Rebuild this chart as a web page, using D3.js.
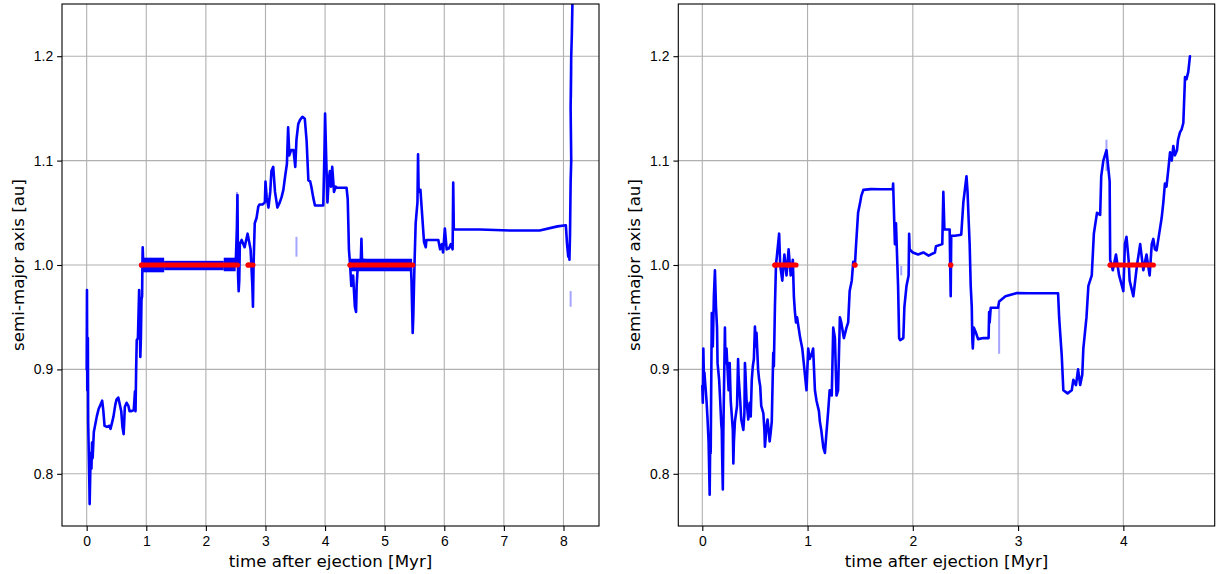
<!DOCTYPE html>
<html>
<head>
<meta charset="utf-8">
<script src="https://cdn.jsdelivr.net/npm/d3@7"></script>
<style>
  body { margin: 0; background: #fff; }
  svg { display: block; font-family: "DejaVu Sans", sans-serif; }
  .tick text { font-size: 13.9px; fill: #000; }
  .tick line { stroke: #000; stroke-width: 1.1; }
  .domain { display: none; }
</style>
</head>
<body>
<div id="chart"></div>
<script>
var width = 1217;
var height = 574;

// ---- data ----
var yTicks = [0.8, 0.9, 1.0, 1.1, 1.2];
var xTicksLeft = [0, 1, 2, 3, 4, 5, 6, 7, 8];
var xTicksRight = [0, 1, 2, 3, 4];

// left run: [time Myr, semi-major axis au]
var leftTrack = [
  [0.00,0.90],[0.005,0.976],[0.01,0.88],[0.02,0.93],[0.025,0.85],[0.035,0.82],[0.045,0.79],[0.05,0.771],
  [0.06,0.80],[0.07,0.82],[0.08,0.805],[0.09,0.83],[0.10,0.815],[0.12,0.84],[0.14,0.846],[0.17,0.855],
  [0.20,0.862],[0.23,0.866],[0.26,0.87],[0.28,0.86],[0.30,0.846],[0.34,0.845],[0.38,0.846],[0.40,0.843],
  [0.43,0.85],[0.45,0.855],[0.48,0.866],[0.50,0.871],[0.53,0.873],[0.55,0.868],[0.58,0.86],[0.60,0.845],
  [0.62,0.838],[0.63,0.85],[0.64,0.864],[0.67,0.868],[0.70,0.865],[0.72,0.86],[0.75,0.86],[0.79,0.861],
  [0.81,0.879],[0.82,0.86],[0.83,0.90],[0.84,0.928],[0.86,0.93],[0.87,0.953],[0.88,0.976],[0.89,0.95],
  [0.90,0.912],[0.91,0.93],[0.92,0.967],[0.93,0.97],[0.935,1.0],[0.94,1.017],[0.95,1.0],
  [2.50,1.0],[2.52,1.035],[2.53,1.067],[2.535,1.03],[2.54,0.99],[2.55,0.975],[2.56,0.985],[2.57,1.02],
  [2.60,1.024],[2.65,1.017],[2.70,1.03],[2.75,1.015],[2.78,0.98],[2.79,0.96],[2.80,1.0],[2.82,1.04],
  [2.85,1.045],[2.88,1.056],[2.90,1.058],[2.95,1.058],[2.99,1.06],[3.00,1.08],[3.02,1.065],[3.05,1.055],
  [3.08,1.07],[3.10,1.09],[3.13,1.094],[3.16,1.07],[3.20,1.055],[3.24,1.06],[3.27,1.065],[3.30,1.072],
  [3.33,1.085],[3.36,1.097],[3.38,1.132],[3.40,1.105],[3.43,1.11],[3.47,1.11],[3.50,1.094],[3.52,1.12],
  [3.55,1.135],[3.58,1.139],[3.62,1.142],[3.66,1.14],[3.69,1.119],[3.72,1.081],[3.75,1.08],[3.77,1.075],
  [3.80,1.065],[3.83,1.057],[3.87,1.057],[3.92,1.057],[3.97,1.057],[3.99,1.11],[4.00,1.145],[4.02,1.10],
  [4.04,1.06],[4.06,1.08],[4.08,1.09],[4.10,1.075],[4.12,1.094],[4.15,1.07],[4.18,1.075],[4.20,1.074],
  [4.25,1.074],[4.30,1.074],[4.36,1.074],[4.38,1.063],[4.39,1.04],[4.40,1.015],[4.42,1.0],[4.44,0.98],
  [4.47,0.99],[4.50,0.96],[4.52,0.955],[4.53,0.98],[4.55,1.0],[4.60,1.006],[4.61,1.025],[4.62,1.005],
  [5.44,1.0],[5.45,0.985],[5.46,0.96],[5.47,0.935],[5.48,0.95],[5.50,1.0],[5.52,1.04],[5.55,1.06],
  [5.56,1.106],[5.57,1.07],[5.60,1.072],[5.63,1.047],[5.66,1.022],[5.69,1.017],[5.70,1.024],[5.80,1.024],
  [5.90,1.024],[5.93,1.015],[5.96,1.02],[5.98,1.012],[6.01,1.035],[6.04,1.015],[6.08,1.016],[6.11,1.02],
  [6.14,1.015],[6.15,1.079],[6.16,1.034],[6.60,1.034],[7.10,1.033],[7.60,1.033],[7.90,1.037],[8.04,1.038],
  [8.06,1.02],[8.08,1.008],[8.09,1.015],[8.10,1.005],[8.11,1.03],[8.12,1.08],[8.13,1.10],[8.12,1.15],
  [8.13,1.20],[8.14,1.22],[8.15,1.25]
];
// dense bands: [t start, t end, a low, a high]
var leftBands = [[0.93,1.30,0.993,1.007],[1.30,2.30,0.995,1.004],[2.30,2.50,0.994,1.007],[4.42,5.46,0.994,1.006]];
// loose streaks: [t, a low, a high]
var leftStreaks = [[3.52,1.008,1.027],[8.12,0.96,0.975],[2.52,1.06,1.07],[8.13,1.16,1.19]];
// red markers (a = 1.0): [t start, t end]
var leftRed = [[0.92,2.53],[2.71,2.79],[4.42,5.47]];

// right run
var rightTrack = [
  [0.00,0.884],[0.005,0.868],[0.01,0.92],[0.015,0.893],[0.02,0.897],[0.04,0.87],[0.05,0.852],[0.06,0.83],
  [0.07,0.78],[0.075,0.83],[0.08,0.82],[0.09,0.954],[0.10,0.922],[0.11,0.97],[0.12,0.995],[0.13,0.96],
  [0.14,0.94],[0.145,0.906],[0.16,0.89],[0.17,0.87],[0.18,0.848],[0.185,0.842],[0.19,0.81],[0.195,0.785],
  [0.20,0.84],[0.215,0.94],[0.22,0.906],[0.23,0.92],[0.25,0.88],[0.26,0.906],[0.27,0.87],[0.29,0.842],
  [0.295,0.81],[0.30,0.83],[0.31,0.85],[0.33,0.865],[0.34,0.91],[0.345,0.893],[0.36,0.87],[0.37,0.852],
  [0.39,0.842],[0.40,0.858],[0.405,0.906],[0.41,0.897],[0.42,0.87],[0.437,0.852],[0.45,0.868],[0.46,0.855],
  [0.47,0.89],[0.48,0.903],[0.49,0.91],[0.50,0.941],[0.51,0.922],[0.515,0.935],[0.53,0.90],[0.54,0.89],
  [0.55,0.884],[0.56,0.865],[0.58,0.858],[0.59,0.842],[0.595,0.826],[0.61,0.845],[0.62,0.852],[0.64,0.831],
  [0.65,0.84],[0.66,0.85],[0.674,0.916],[0.68,0.903],[0.69,0.96],[0.695,0.98],[0.70,1.0],[0.72,1.02],
  [0.73,1.03],[0.74,1.0],[0.76,0.985],[0.78,1.01],[0.80,0.99],[0.82,1.015],[0.84,0.99],[0.86,1.005],
  [0.87,0.97],[0.88,0.955],[0.89,0.945],[0.90,0.95],[0.93,0.93],[0.95,0.92],[0.975,0.895],[0.99,0.88],
  [1.006,0.92],[1.02,0.91],[1.04,0.915],[1.053,0.92],[1.07,0.88],[1.085,0.87],[1.108,0.86],[1.117,0.85],
  [1.13,0.842],[1.15,0.825],[1.165,0.82],[1.18,0.84],[1.196,0.86],[1.21,0.88],[1.23,0.875],[1.244,0.94],
  [1.26,0.93],[1.275,0.875],[1.29,0.88],[1.307,0.95],[1.32,0.945],[1.345,0.93],[1.37,0.94],[1.386,0.945],
  [1.40,0.975],[1.42,0.985],[1.434,1.003],[1.45,1.0],[1.46,1.018],[1.48,1.05],[1.50,1.06],[1.51,1.066],
  [1.53,1.072],[1.60,1.0727],[1.70,1.0725],[1.81,1.0727],[1.813,1.078],[1.83,1.02],[1.84,1.04],[1.85,1.01],
  [1.86,0.98],[1.87,0.93],[1.88,0.928],[1.91,0.93],[1.92,0.96],[1.94,0.98],[1.96,0.99],[1.965,1.03],
  [1.97,1.015],[2.00,1.012],[2.05,1.01],[2.10,1.012],[2.15,1.009],[2.21,1.012],[2.22,1.018],[2.28,1.02],
  [2.29,1.07],[2.30,1.034],[2.35,1.034],[2.355,1.0],[2.36,0.97],[2.365,1.028],[2.40,1.028],[2.46,1.029],
  [2.48,1.06],[2.51,1.085],[2.52,1.07],[2.53,1.044],[2.54,1.02],[2.55,0.98],[2.56,0.96],[2.565,0.93],
  [2.57,0.92],[2.58,0.94],[2.60,0.935],[2.62,0.929],[2.67,0.93],[2.72,0.93],[2.725,0.955],[2.73,0.945],
  [2.74,0.959],[2.81,0.959],[2.82,0.965],[2.88,0.97],[2.99,0.9732],[3.10,0.973],[3.20,0.973],[3.38,0.973],
  [3.39,0.95],[3.40,0.935],[3.415,0.913],[3.43,0.88],[3.47,0.877],[3.51,0.88],[3.525,0.89],[3.55,0.885],
  [3.57,0.90],[3.59,0.885],[3.61,0.895],[3.62,0.92],[3.63,0.93],[3.65,0.95],[3.668,0.98],[3.70,0.99],
  [3.72,1.03],[3.75,1.05],[3.78,1.048],[3.79,1.085],[3.81,1.10],[3.84,1.11],[3.87,1.08],[3.875,1.005],
  [3.90,0.995],[3.93,1.01],[3.96,0.99],[4.00,0.975],[4.015,1.02],[4.03,1.027],[4.05,1.005],[4.06,0.985],
  [4.095,0.97],[4.13,1.0],[4.16,1.02],[4.19,0.995],[4.22,1.01],[4.25,0.99],[4.27,1.02],[4.285,1.025],
  [4.30,1.015],[4.316,1.014],[4.35,1.036],[4.364,1.045],[4.38,1.06],[4.395,1.078],[4.41,1.075],[4.43,1.094],
  [4.444,1.108],[4.46,1.10],[4.475,1.114],[4.49,1.105],[4.51,1.11],[4.52,1.12],[4.538,1.127],[4.554,1.13],
  [4.57,1.136],[4.586,1.18],[4.60,1.178],[4.617,1.185],[4.633,1.20]
];
var rightBands = [];
var rightStreaks = [[2.82,0.915,0.96],[3.84,1.09,1.12],[1.89,0.99,0.999]];
var rightRed = [[0.69,0.80],[0.82,0.89],[1.45,1.45],[2.36,2.36],[3.875,4.015],[4.05,4.285]];

// ---- drawing ----
var svg = d3.select('#chart')
    .append('svg')
    .attr('width', width)
    .attr('height', height);

var y = d3.scaleLinear().domain([0.75, 1.25]).range([526, 4]);

var panels = [
  {id: 'l', left: 62, right: 599, domain: [-0.414, 8.596], ticks: xTicksLeft,
   track: leftTrack, bands: leftBands, streaks: leftStreaks, red: leftRed, labelX: 23.5},
  {id: 'r', left: 678.3, right: 1214.7, domain: [-0.228, 4.868], ticks: xTicksRight,
   track: rightTrack, bands: rightBands, streaks: rightStreaks, red: rightRed, labelX: 640}
];

panels.forEach(function(p){
  var x = d3.scaleLinear().domain(p.domain).range([p.left, p.right]);

  // grid
  svg.append('g').selectAll('line.gx')
      .data(p.ticks).enter().append('line')
      .attr('x1', function(d){ return x(d); }).attr('x2', function(d){ return x(d); })
      .attr('y1', 4).attr('y2', 526)
      .attr('stroke', '#b0b0b0').attr('stroke-width', 1.1);
  svg.append('g').selectAll('line.gy')
      .data(yTicks).enter().append('line')
      .attr('x1', p.left).attr('x2', p.right)
      .attr('y1', function(d){ return y(d); }).attr('y2', function(d){ return y(d); })
      .attr('stroke', '#b0b0b0').attr('stroke-width', 1.1);

  svg.append('clipPath').attr('id', 'clip-' + p.id)
    .append('rect')
      .attr('x', p.left).attr('y', 4)
      .attr('width', p.right - p.left).attr('height', 522);

  var plot = svg.append('g').attr('clip-path', 'url(#clip-' + p.id + ')');

  plot.selectAll('rect.band')
      .data(p.bands).enter().append('rect')
      .attr('x', function(d){ return x(d[0]); })
      .attr('width', function(d){ return x(d[1]) - x(d[0]); })
      .attr('y', function(d){ return y(d[3]); })
      .attr('height', function(d){ return y(d[2]) - y(d[3]); })
      .attr('fill', 'blue');

  plot.selectAll('line.streak')
      .data(p.streaks).enter().append('line')
      .attr('x1', function(d){ return x(d[0]); }).attr('x2', function(d){ return x(d[0]); })
      .attr('y1', function(d){ return y(d[1]); }).attr('y2', function(d){ return y(d[2]); })
      .attr('stroke', 'blue').attr('stroke-width', 2).attr('opacity', 0.35);

  var line = d3.line()
      .x(function(d){ return x(d[0]); })
      .y(function(d){ return y(d[1]); });

  plot.append('path')
      .datum(p.track)
      .attr('d', line)
      .attr('fill', 'none')
      .attr('stroke', 'blue')
      .attr('stroke-width', 2.6)
      .attr('stroke-linejoin', 'round')
      .attr('stroke-linecap', 'round');

  // red markers at a = 1
  plot.selectAll('line.red')
      .data(p.red).enter().append('line')
      .attr('x1', function(d){ return x(d[0]); }).attr('x2', function(d){ return x(d[1]); })
      .attr('y1', y(1.0)).attr('y2', y(1.0))
      .attr('stroke', 'red').attr('stroke-width', 5.2)
      .attr('stroke-linecap', 'round');
  plot.selectAll('circle.red')
      .data(p.red).enter().append('circle')
      .attr('cx', function(d){ return x(d[0]); })
      .attr('cy', y(1.0))
      .attr('r', 2.6)
      .attr('fill', 'red');

  // axes
  svg.append('g')
      .attr('transform', 'translate(0,526)')
      .call(d3.axisBottom(x).tickValues(p.ticks).tickSizeInner(4.9).tickSizeOuter(0).tickPadding(5.5)
            .tickFormat(d3.format('d')));
  svg.append('g')
      .attr('transform', 'translate(' + p.left + ',0)')
      .call(d3.axisLeft(y).tickValues(yTicks).tickSizeInner(4.9).tickSizeOuter(0).tickPadding(4)
            .tickFormat(d3.format('.1f')));

  svg.append('rect')
      .attr('x', p.left).attr('y', 4)
      .attr('width', p.right - p.left).attr('height', 522)
      .attr('fill', 'none').attr('stroke', '#000').attr('stroke-width', 1.1);

  svg.append('text')
      .attr('x', (p.left + p.right) / 2).attr('y', 567)
      .attr('text-anchor', 'middle')
      .attr('font-size', 16.7)
      .text('time after ejection [Myr]');

  svg.append('text')
      .attr('transform', 'translate(' + p.labelX + ',265) rotate(-90)')
      .attr('text-anchor', 'middle')
      .attr('font-size', 16.7)
      .text('semi-major axis [au]');
});
</script>
</body>
</html>
